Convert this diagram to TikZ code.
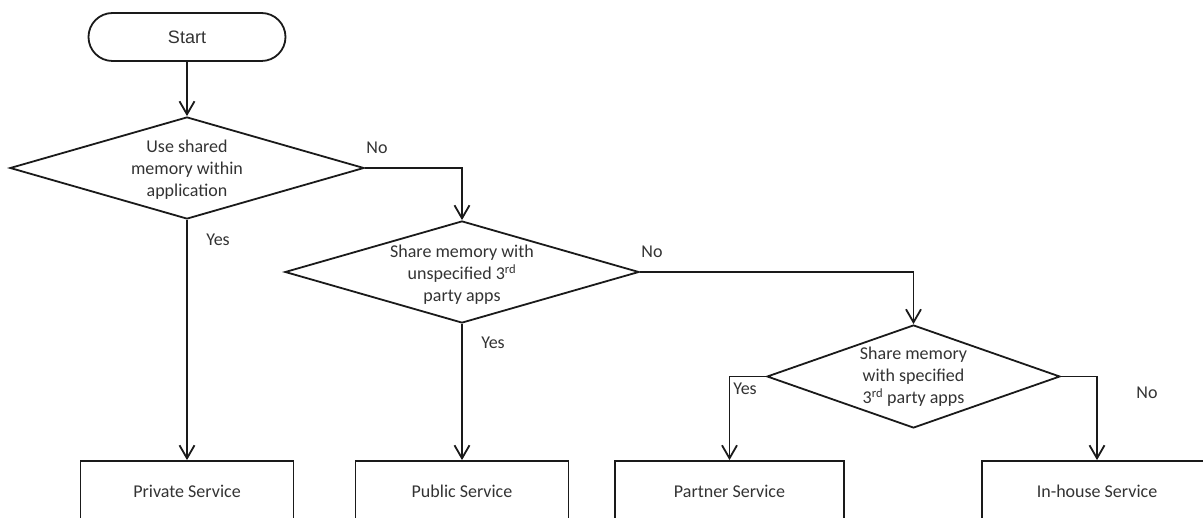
\documentclass[tikz,border=0pt]{standalone}
\usepackage{fontspec}
\setmainfont{Carlito}
\newfontfamily\startfont{Liberation Sans}
\usetikzlibrary{shapes.geometric,arrows.meta}
\definecolor{linec}{HTML}{1A1A1A}
\definecolor{textc}{HTML}{333333}
\begin{document}
\begin{tikzpicture}[x=1pt,y=-1pt,
  line width=1.8pt,
  txt/.style={font=\fontsize{18}{22}\selectfont, text=textc, align=center, inner sep=0pt},
  dia/.style={draw=linec, diamond, inner sep=0pt},
  svc/.style={draw=linec, rectangle, minimum width=213pt, minimum height=60pt, inner sep=0pt, txt},
  term/.style={draw=linec, rectangle, rounded corners=24pt, minimum width=197pt, minimum height=48pt, inner sep=0pt},
  arr/.style={draw=linec, -{Straight Barb[length=13pt,width=15pt]}}
]
\clip (0,0) rectangle (1203,518);
\fill[white] (0,0) rectangle (1203,518);

\node[term, font=\startfont\fontsize{18}{21}\selectfont, text=textc] (start) at (187,37) {Start};

\node[dia, minimum width=354pt, minimum height=102pt,
  label={[txt, yshift=-2pt]center:Use shared\\memory within\\application}] (d1) at (187,168) {};
\node[dia, minimum width=354pt, minimum height=102pt,
  label={[txt, yshift=-2.5pt]center:Share memory with\\unspecified 3\textsuperscript{rd}\\party apps}] (d2) at (462,272) {};
\node[dia, minimum width=293pt, minimum height=103pt,
  label={[txt]center:Share memory\\with specified\\3\textsuperscript{rd} party apps}] (d3) at (913.5,376.5) {};

\node[svc] (priv) at (187,491) {Private Service};
\node[svc] (pub) at (462,491) {Public Service};
\node[svc, minimum width=229pt] (part) at (729.5,491) {Partner Service};
\node[svc, minimum width=230pt] (inh) at (1097,491) {In-house Service};

\draw[arr] (start.south) -- (d1.north);
\draw[arr] (d1.east) -| (d2.north);
\draw[arr] (d1.south) -- (priv.north);
\draw[arr] (d2.east) -| (d3.north);
\draw[arr] (d2.south) -- (pub.north);
\draw[arr] (d3.west) -| (part.north);
\draw[arr] (d3.east) -| (inh.north);

\node[txt] (no1) at (377,148) {No};
\node[txt] (yes1) at (218,240) {Yes};
\node[txt] (no2) at (652,252) {No};
\node[txt] (yes2) at (493,343) {Yes};
\node[txt] (yes3) at (745,389) {Yes};
\node[txt] (no3) at (1147,393) {No};
\end{tikzpicture}
\end{document}
